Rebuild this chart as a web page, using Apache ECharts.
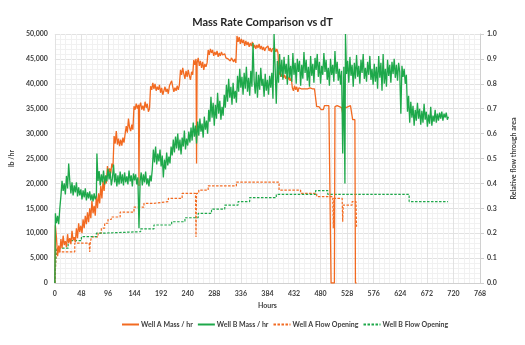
<!DOCTYPE html>
<html><head><meta charset="utf-8">
<script src="https://cdn.jsdelivr.net/npm/echarts@6/dist/echarts.min.js"></script>
<style>html,body{margin:0;padding:0;background:#fff}#c{width:525px;height:345px}</style>
</head><body><div id="c"></div>
<script>
const hourTicks = [0,48,96,144,192,240,288,336,384,432,480,528,576,624,672,720,768];
const seriesNames = ['Well A Mass / hr','Well B Mass / hr','Well A Flow Opening','Well B Flow Opening'];

const wellAMass = [[0,0],[1,11600],[3,9000],[5,5400],[7,7500],[9,6200],[11,8800],[13,7000],[15,9500],[17,7600],[19,8400],[21,7200],[23,9800],[25,8000],[27,9000],[29,7800],[31,10500],[33,8600],[35,9200],[37,8200],[39,11000],[41,9000],[43,12000],[45,10200],[47,11500],[49,10000],[51,12800],[53,11000],[55,13500],[57,11800],[59,14200],[61,12200],[63,15000],[65,13000],[67,16500],[69,14000],[71,15500],[73,13500],[75,17500],[77,15000],[79,18000],[81,16000],[83,19500],[85,17000],[87,20500],[89,18500],[91,21500],[93,20000],[95,23500],[97,21800],[99,23000],[101,22000],[103,24000],[105,23200],[107,29500],[109,28000],[111,30500],[113,27800],[115,29000],[117,27500],[119,28800],[121,27600],[123,29200],[125,28200],[127,30000],[129,31500],[131,30200],[133,33000],[135,31200],[137,30500],[139,31800],[141,30800],[143,35500],[145,34800],[147,36000],[149,35000],[151,35800],[152,19500],[153,35400],[155,36200],[157,34800],[159,35600],[161,34600],[163,36400],[165,35200],[167,36000],[169,34400],[171,35000],[173,39500],[175,38800],[177,40200],[179,39000],[181,40000],[183,38600],[185,39400],[187,38800],[189,39800],[191,38200],[193,39200],[195,37800],[197,38600],[199,39400],[201,38400],[203,39000],[205,38000],[207,39600],[209,39200],[211,40600],[213,39400],[215,38400],[217,39200],[219,38600],[221,39600],[223,38800],[225,39800],[227,42800],[229,41800],[231,43200],[233,42000],[235,41000],[237,42600],[239,41400],[241,42800],[243,41600],[245,40800],[247,42400],[249,41800],[251,44800],[253,43800],[255,45000],[256,24000],[257,44200],[259,45200],[261,43600],[263,44600],[265,43200],[267,44400],[269,42800],[271,44000],[273,43400],[275,44200],[277,46800],[279,45800],[281,47000],[283,46200],[285,46800],[287,45600],[289,46400],[291,45800],[293,46600],[295,45400],[297,46200],[299,45600],[301,46400],[303,45800],[305,45400],[307,46000],[309,45200],[311,45600],[313,45000],[315,45400],[317,44600],[319,45200],[321,44800],[323,44400],[325,45000],[327,44200],[329,49600],[331,48400],[333,49400],[335,48000],[337,49000],[339,48200],[341,48800],[343,47600],[345,48600],[347,47800],[349,48400],[351,47400],[353,48200],[355,47600],[357,48400],[359,47200],[361,47800],[363,47000],[365,47800],[367,47200],[369,48000],[371,47000],[373,47600],[375,46800],[377,47400],[379,46600],[381,47200],[383,46800],[385,47600],[387,46600],[389,47200],[391,46400],[393,47000],[395,46600],[397,47200],[399,46400],[401,47000],[403,46200],[405,41800],[407,42400],[409,41400],[411,42000],[413,41200],[415,41800],[417,41000],[419,41600],[421,40800],[423,41400],[425,40600],[427,41200],[429,39200],[431,38600],[433,39600],[435,38800],[437,39400],[439,38400],[441,39200],[443,38800],[445,39000],[447,38600],[449,39000],[451,38800],[453,39000],[455,38600],[457,39000],[459,38800],[461,39200],[463,38800],[465,39000],[467,38800],[469,39000],[471,38800],[473,35400],[475,35600],[477,35400],[479,35600],[481,34800],[483,34600],[485,34800],[487,35600],[489,35400],[491,35600],[493,35400],[495,35600],[497,35400],[499,0],[505,0],[506,35400],[508,35800],[510,35600],[512,35800],[514,35400],[516,35800],[518,35200],[520,34000],[522,35400],[524,35600],[526,35200],[528,35600],[530,35400],[532,35200],[534,35600],[536,35400],[538,32800],[540,32600],[542,32800],[543,0],[545,0]];

const wellBMass = [[0,0],[1,14000],[3,12000],[5,13500],[7,11800],[9,15000],[11,17500],[13,20500],[15,18500],[17,20000],[19,17800],[21,21500],[23,19000],[25,24000],[27,20500],[29,18000],[31,20200],[33,17600],[35,19600],[37,18200],[39,20200],[41,17400],[43,19200],[45,17600],[47,18800],[49,16800],[51,18600],[53,17200],[55,19000],[57,16600],[59,18200],[61,17000],[63,18400],[65,16600],[67,17800],[69,16400],[71,18000],[73,16800],[75,17400],[76,26000],[78,20500],[80,22500],[82,19600],[84,21800],[86,20200],[88,22600],[90,19800],[92,21600],[94,20400],[96,23000],[98,20800],[100,22400],[102,19600],[104,21000],[106,23800],[108,20200],[110,22000],[112,19400],[114,21600],[116,19800],[118,22400],[120,20000],[122,21800],[124,19600],[126,22200],[128,20200],[130,21400],[132,19800],[134,22600],[136,20400],[138,21600],[140,19400],[142,22000],[144,20600],[146,21800],[148,19800],[150,21200],[152,11000],[154,20400],[156,22200],[158,19600],[160,21800],[162,20200],[164,22400],[166,19800],[168,21000],[170,19400],[172,21600],[174,20400],[176,22800],[178,26800],[180,24200],[182,27400],[184,23800],[186,26000],[188,24400],[190,26800],[192,23400],[194,25600],[196,21200],[198,24800],[200,22800],[202,26200],[204,23600],[206,25400],[208,24000],[210,27400],[212,25600],[214,28800],[216,26200],[218,29400],[220,27000],[222,30000],[224,26600],[226,28800],[228,25800],[230,29200],[232,27400],[234,30600],[236,26800],[238,29000],[240,27600],[242,30400],[244,28200],[246,31200],[248,28600],[250,32200],[252,29400],[254,31600],[256,28000],[258,32400],[260,29600],[262,33000],[264,30400],[266,32000],[268,29200],[270,33400],[272,30800],[274,32600],[276,30000],[278,34800],[280,32400],[282,37400],[284,33200],[286,36200],[288,31600],[290,35800],[292,33000],[294,38200],[296,34000],[298,36600],[300,32800],[302,35400],[304,33600],[306,37800],[308,35200],[310,39800],[312,36400],[314,41000],[316,37200],[318,39400],[320,35800],[322,40200],[324,37000],[326,38600],[328,36200],[330,41600],[332,38400],[334,43000],[336,39200],[338,41400],[340,37800],[342,42200],[344,39000],[346,43400],[348,38400],[350,41200],[352,37600],[354,42600],[356,39400],[358,48200],[360,40600],[362,38000],[364,42400],[366,37200],[368,41800],[370,38800],[372,43200],[374,39600],[376,41000],[378,37400],[380,42000],[382,38600],[384,40800],[386,37800],[388,41600],[390,39200],[392,42200],[394,37000],[396,50000],[398,43000],[400,36000],[402,44600],[404,40200],[406,46000],[408,41400],[410,44800],[412,40800],[414,45400],[416,42000],[418,44000],[420,39800],[422,45800],[424,41200],[426,43600],[428,40400],[430,46200],[432,41800],[434,44200],[436,40000],[438,45000],[440,42400],[442,44600],[444,39600],[446,43800],[448,41000],[450,46400],[452,42200],[454,44800],[456,40600],[458,43400],[460,39400],[462,45600],[464,41600],[466,44000],[468,40200],[470,45200],[472,42800],[474,46000],[476,41400],[478,44400],[480,40000],[482,43600],[484,41800],[486,46200],[488,42400],[490,44800],[492,40800],[494,43200],[496,39600],[498,45000],[500,41800],[502,43800],[504,40400],[506,46600],[508,42000],[510,44400],[512,40600],[514,43000],[516,39800],[518,42600],[520,26000],[522,43400],[524,20000],[525,50000],[527,42000],[529,44600],[531,40200],[533,45400],[535,41600],[537,43800],[539,39400],[541,44200],[543,41000],[545,45800],[547,41400],[549,43600],[551,40000],[553,44800],[555,42200],[557,46000],[559,41000],[561,43200],[563,40400],[565,44400],[567,41800],[569,45600],[571,40800],[573,43000],[575,39800],[577,44000],[579,40400],[581,43400],[583,39000],[585,45600],[587,41200],[589,44200],[591,38600],[593,46000],[595,40000],[597,43000],[599,39400],[601,44800],[603,41600],[605,43800],[607,40200],[609,44400],[611,42000],[613,45000],[615,41200],[617,43800],[619,40600],[621,44200],[623,42400],[625,34000],[627,43600],[629,41400],[631,43000],[633,40000],[635,41800],[637,34400],[639,37600],[641,32200],[643,36400],[645,33200],[647,35600],[649,31600],[651,34800],[653,32600],[655,36200],[657,33000],[659,35000],[661,31800],[663,34600],[665,32200],[667,36000],[669,32800],[671,34400],[673,31400],[675,33800],[677,32000],[679,35400],[681,31600],[683,33600],[685,32400],[687,34800],[689,32200],[691,34000],[693,32600],[695,34200],[697,33000],[699,34400],[701,32600],[703,34000],[705,33200],[707,34200],[709,32800],[711,33400]];

const wellAFlow = [[0,0],[2,0.10],[4,0.125],[36,0.125],[36,0.16],[62,0.16],[63,0.125],[64,0.16],[66,0.16],[66,0.185],[78,0.185],[78,0.2],[84,0.2],[84,0.22],[90,0.22],[90,0.24],[96,0.24],[96,0.255],[102,0.255],[102,0.265],[118,0.265],[118,0.285],[143,0.285],[143,0.305],[161,0.305],[161,0.32],[179,0.32],[179,0.327],[205,0.327],[205,0.34],[230,0.34],[230,0.36],[254,0.36],[255,0.185],[256,0.36],[260,0.36],[260,0.373],[277,0.373],[277,0.39],[328,0.39],[328,0.405],[405,0.405],[405,0.373],[444,0.373],[444,0.36],[473,0.36],[473,0.347],[502,0.347],[503,0.22],[504,0.34],[519,0.34],[520,0.246],[521,0.313],[537,0.313],[537,0.327],[544,0.327],[545,0.226]];

const wellBFlow = [[0,0],[2,0.12],[4,0.14],[24,0.14],[24,0.17],[48,0.17],[48,0.186],[75,0.186],[75,0.2],[84,0.2],[84,0.206],[155,0.206],[155,0.217],[179,0.217],[179,0.233],[211,0.233],[211,0.246],[235,0.246],[235,0.262],[259,0.262],[259,0.28],[283,0.28],[283,0.297],[307,0.297],[307,0.313],[331,0.313],[331,0.327],[352,0.327],[352,0.343],[400,0.343],[400,0.356],[471,0.356],[471,0.371],[493,0.371],[493,0.356],[640,0.356],[640,0.327],[710,0.327]];

const ORANGE = '#F26A21', GREEN = '#1EA84A';
const FONT = 'Lato, "Open Sans", sans-serif';
const lbl = {fontFamily: FONT, fontSize: 7, fontWeight: 'bold', color: '#404040'};

const chart = echarts.init(document.getElementById('c'), null, {renderer: 'canvas'});
chart.setOption({
  animation: false,
  backgroundColor: '#fff',
  title: {text: 'Mass Rate Comparison vs dT', left: 'center', top: 12,
    textStyle: {fontFamily: FONT, fontSize: 11, fontWeight: 'bold', color: '#262626'}},
  grid: {left: 53, right: 43, top: 34, bottom: 62},
  legend: {bottom: 12, left: 116, itemWidth: 17, itemHeight: 8, itemGap: 4,
    itemStyle: {opacity: 0, borderWidth: 0},
    textStyle: Object.assign({}, lbl, {padding: [0,0,0,-3]}), data: seriesNames},
  xAxis: {type: 'value', min: 0, max: 768, interval: 48, name: 'Hours', nameLocation: 'middle', nameGap: 18,
    nameTextStyle: lbl,
    axisLabel: Object.assign({}, lbl, {margin: 7}),
    axisLine: {show: true, lineStyle: {color: '#D0D0D0'}}, axisTick: {show: false},
    splitLine: {show: true, lineStyle: {color: '#E2E2E2', width: 1}},
    minorTick: {show: false, splitNumber: 5},
    minorSplitLine: {show: true, lineStyle: {color: '#F1F1F1', width: 1}}},
  yAxis: [
    {type: 'value', min: 0, max: 50000, interval: 5000, name: 'lb /hr', nameLocation: 'middle', nameGap: 38, nameRotate: 90,
      nameTextStyle: lbl,
      axisLabel: Object.assign({}, lbl, {margin: 7, formatter: v => v.toLocaleString('en-US')}),
      axisLine: {show: false}, axisTick: {show: false},
      splitLine: {show: true, lineStyle: {color: '#E2E2E2', width: 1}},
      minorTick: {show: false, splitNumber: 5},
      minorSplitLine: {show: true, lineStyle: {color: '#F1F1F1', width: 1}}},
    {type: 'value', min: 0, max: 1, interval: 0.1, position: 'right', name: 'Relative flow through area',
      nameLocation: 'middle', nameGap: 30, nameRotate: 90, nameTextStyle: lbl,
      axisLabel: Object.assign({}, lbl, {margin: 7, formatter: v => v.toFixed(1)}),
      axisLine: {show: true, lineStyle: {color: '#D0D0D0'}},
      axisTick: {show: true, inside: false, length: 4, lineStyle: {color: '#D0D0D0'}},
      splitLine: {show: false}}
  ],
  series: [
    {name: seriesNames[0], type: 'line', yAxisIndex: 0, data: wellAMass, symbol: 'none', z: 3,
      lineStyle: {color: ORANGE, width: 1.3}, itemStyle: {color: ORANGE}},
    {name: seriesNames[1], type: 'line', yAxisIndex: 0, data: wellBMass, symbol: 'none', z: 4,
      lineStyle: {color: GREEN, width: 1.3}, itemStyle: {color: GREEN}},
    {name: seriesNames[2], type: 'line', yAxisIndex: 1, data: wellAFlow, symbol: 'none', z: 2,
      lineStyle: {color: ORANGE, width: 1.2, type: [2.5, 1.5]}, itemStyle: {color: ORANGE}},
    {name: seriesNames[3], type: 'line', yAxisIndex: 1, data: wellBFlow, symbol: 'none', z: 2,
      lineStyle: {color: GREEN, width: 1.2, type: [2.5, 1.5]}, itemStyle: {color: GREEN}}
  ]
});
</script></body></html>
